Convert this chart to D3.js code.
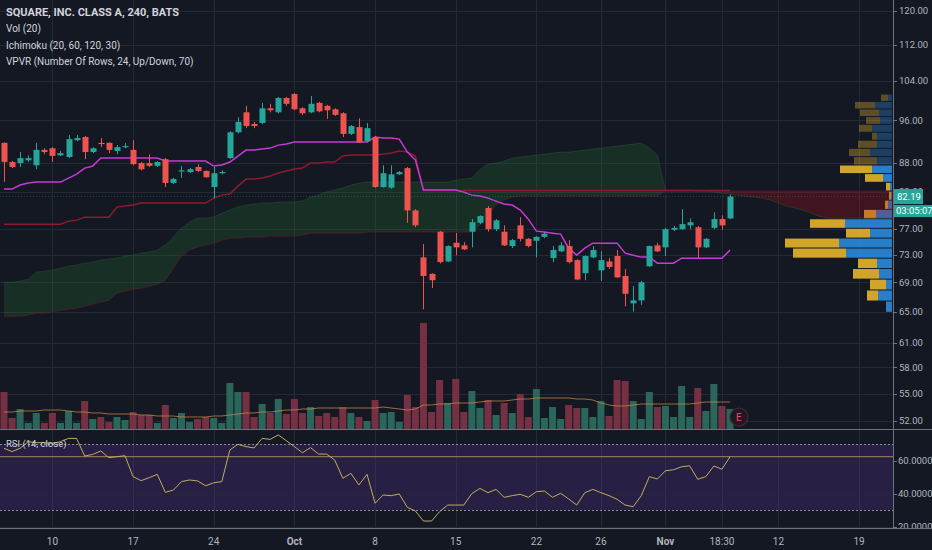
<!DOCTYPE html>
<html><head><meta charset="utf-8">
<script src="https://cdn.jsdelivr.net/npm/d3@7"></script>
<style>html,body{margin:0;padding:0;background:#141823;overflow:hidden}svg{display:block}</style>
</head><body>
<svg id="c" width="932" height="550"></svg>
<script>
// ---------------- DATA ----------------
const opens = [91.7,88.2,88.0,88.5,87.6,90.4,90.7,89.4,89.1,92.2,
92.8,90.0,91.7,91.7,90.2,90.9,90.4,88.0,88.0,87.5,
88.7,84.5,86.6,86.4,87.3,86.6,83.8,86.2,88.9,93.7,
97.6,95.3,95.5,98.4,97.6,100.5,101.3,98.4,97.6,99.5,
98.9,98.2,97.4,93.4,94.7,92.0,92.8,83.8,83.7,86.0,
87.1,79.9,72.6,70.2,76.5,72.0,74.8,74.4,76.5,77.9,
80.3,76.9,76.5,74.3,77.5,75.4,75.1,75.7,72.5,73.5,
74.3,72.2,70.3,72.6,70.7,72.0,72.8,69.9,66.1,66.5,
71.3,74.4,74.1,76.8,76.9,77.5,77.2,74.1,77.1,78.5,
78.6];
const highs = [91.8,88.4,90.0,89.4,91.7,90.7,90.9,90.2,93.2,93.2,
93.0,90.9,92.6,91.8,91.3,91.7,92.2,88.2,89.6,88.3,
88.9,85.4,87.5,87.1,87.8,86.7,87.3,86.7,93.9,96.6,
98.9,95.7,99.5,99.3,100.7,100.7,101.5,98.6,100.9,99.7,
99.1,98.4,97.6,95.1,96.4,95.5,93.0,87.6,87.6,86.6,
87.3,80.1,74.6,70.3,76.6,74.4,76.3,74.9,78.5,79.1,
80.6,78.5,77.5,75.4,78.8,75.5,75.8,76.5,74.3,74.9,
75.2,72.3,72.9,74.3,73.5,72.5,73.7,70.9,68.5,69.2,
74.4,74.8,77.1,77.4,80.1,78.6,77.4,75.5,79.6,79.1,
82.5];
const lows = [84.7,87.1,87.3,88.2,86.9,89.6,88.2,89.3,88.9,92.0,
88.7,89.8,90.9,89.8,89.6,90.7,87.6,86.7,87.3,87.3,
83.8,84.3,85.4,86.2,86.4,85.4,81.9,86.0,88.7,93.5,
94.5,94.5,95.3,97.6,97.4,98.9,98.0,97.1,97.4,97.6,
96.3,96.9,92.8,93.2,91.7,91.8,83.7,83.7,83.5,85.9,
77.9,77.2,65.3,68.2,71.7,71.9,72.9,73.7,74.1,77.7,
76.5,76.6,74.3,74.0,75.0,74.1,72.6,75.5,71.9,73.4,
71.7,69.3,69.3,72.5,69.2,70.9,69.6,65.7,65.0,65.9,
71.2,73.4,72.8,76.6,76.8,76.9,72.5,74.0,76.9,76.8,
78.5];
const closes = [88.2,87.3,88.9,88.9,90.4,90.0,89.3,89.8,92.4,92.6,
90.0,90.7,91.5,90.4,90.9,91.1,87.8,86.9,87.5,88.2,
84.5,85.2,86.7,86.9,86.6,85.5,86.2,86.4,93.7,95.7,
94.9,94.9,98.4,98.0,100.5,99.3,98.2,97.4,99.3,97.8,
98.0,97.1,93.4,94.9,91.8,94.5,83.8,86.2,86.0,86.4,
79.9,77.5,69.9,69.3,71.9,74.3,74.1,73.8,78.0,79.0,
76.9,78.3,74.4,75.2,75.4,74.3,75.7,76.2,73.7,74.4,
71.9,69.4,72.8,73.7,72.2,71.2,69.7,67.4,66.5,69.0,
74.3,73.5,76.9,77.1,77.7,78.0,74.1,75.4,78.5,77.5,
82.19];
// volume, millions of shares
const volumes = [3.7,1.1,2.0,0.6,1.6,0.6,1.6,0.6,1.8,0.6,
2.8,1.0,1.2,0.7,1.2,0.9,1.7,1.4,1.4,0.6,
2.4,1.1,1.6,0.7,1.0,1.2,1.1,0.6,4.6,3.7,
3.7,1.2,2.5,1.6,3.0,1.5,3.0,1.6,2.2,1.3,
1.6,1.2,2.2,1.6,1.2,0.8,2.9,1.6,1.7,0.7,
3.4,2.2,10.6,1.7,4.9,2.6,5.0,1.7,3.8,2.1,
2.9,1.4,2.6,1.6,3.5,1.2,4.0,1.1,2.2,1.0,
2.4,2.1,2.1,1.2,2.8,1.3,4.9,4.8,2.8,1.0,
3.7,2.2,2.3,1.2,4.3,1.2,4.1,1.8,4.5,2.3,
2.0];
const volumeMA = [1.7,1.7,1.8,1.8,1.8,1.9,1.9,1.9,1.8,1.7,
1.7,1.6,1.6,1.5,1.5,1.5,1.5,1.4,1.4,1.3,
1.3,1.3,1.2,1.2,1.2,1.2,1.3,1.3,1.4,1.5,
1.6,1.6,1.7,1.7,1.8,1.9,1.9,2.0,2.0,2.1,
2.1,2.1,2.1,2.1,2.1,2.1,2.1,2.2,2.1,2.0,
1.9,2.0,2.4,2.4,2.5,2.5,2.6,2.6,2.6,2.7,
2.8,2.8,2.8,2.9,3.0,3.0,3.1,3.1,3.1,3.1,
3.1,3.0,3.0,2.9,2.6,2.4,2.3,2.3,2.4,2.5,
2.5,2.5,2.5,2.5,2.5,2.5,2.6,2.7,2.7,2.7,
2.7];
// Ichimoku
const conversionLine = [83.45,83.45,84.14,84.48,84.65,84.65,84.65,84.65,85.35,86.04,
87.10,87.46,88.90,88.90,88.90,88.90,88.90,88.90,88.90,88.90,
88.36,88.36,88.36,88.36,88.36,88.36,87.46,87.64,88.18,89.26,
90.36,90.36,90.54,90.73,91.28,91.47,91.84,91.84,91.84,91.84,
91.84,91.84,91.84,91.84,91.84,91.84,92.79,92.60,92.60,92.41,
89.99,88.54,83.28,83.28,83.28,83.28,83.28,82.94,82.43,82.27,
81.93,81.43,80.94,80.77,79.95,78.49,76.59,76.44,76.28,76.13,
73.98,72.93,73.98,74.74,74.74,74.74,74.74,73.23,72.93,72.64,
72.64,71.75,71.75,71.75,72.48,72.48,72.48,72.48,72.48,72.48,
73.68];
const baseLine = [77.69,77.69,77.69,77.69,77.69,77.69,77.69,77.69,78.17,78.33,
78.81,78.81,78.81,78.81,80.44,80.61,80.77,81.10,81.10,81.10,
81.10,81.10,81.10,81.10,81.10,81.10,81.93,82.43,82.60,83.96,
85.17,85.17,85.35,85.70,86.22,86.57,86.93,87.10,87.99,87.99,
88.18,88.18,89.26,89.44,89.44,89.44,89.44,89.62,89.81,90.17,
89.99,89.26,83.20,83.20,83.20,83.20,83.20,83.20,83.20,83.20,
83.20,83.20,83.20,83.20,83.20,83.20,83.20,83.20,83.20,83.20,
83.20,83.20,83.20,83.20,83.20,83.20,83.20,83.20,83.20,83.20,
83.20,83.20,83.20,83.20,83.20,83.20,83.20,83.20,83.20,83.20,
83.20];
const leadSpanA = [69.02,69.02,69.16,69.44,70.44,70.59,70.73,71.02,71.31,71.46,
71.75,71.90,72.19,72.34,72.49,72.78,72.93,73.23,73.38,73.68,
74.44,75.66,77.06,78.01,78.65,78.65,78.81,79.46,79.95,80.44,
80.77,80.94,81.10,81.10,81.27,81.27,81.27,81.43,82.10,82.43,
82.94,83.28,83.62,84.14,84.48,84.65,84.65,84.65,84.65,84.65,
84.65,84.65,84.65,84.65,84.65,84.65,85.00,85.17,85.35,86.75,
87.82,87.99,88.36,88.90,89.08,89.26,89.44,89.62,89.81,89.99,
89.99,90.17,90.36,90.54,90.73,90.91,91.10,91.28,91.47,91.66,
90.73,89.44,83.28,83.28,83.28,83.28,83.11,83.11,82.94,82.77,
82.60,82.43,82.27,82.10,81.93,81.60,81.10,80.61,80.28,79.95,
79.46,78.97,78.65,78.65,78.65,78.65,78.65,78.65,78.65,78.65,
78.65,78.65,78.65];
const leadSpanB = [64.27,64.40,64.40,64.53,64.80,64.80,64.93,65.19,65.32,65.46,
65.72,65.99,66.26,66.53,67.49,67.76,68.04,68.18,68.46,68.74,
69.30,71.02,72.78,73.68,74.13,74.44,74.74,75.20,75.51,75.51,
75.66,75.66,75.66,75.82,75.82,75.82,75.82,75.97,76.28,76.28,
76.28,76.28,76.28,76.28,76.28,76.44,76.44,76.44,76.44,76.44,
76.44,76.44,76.44,76.44,76.44,76.44,76.44,76.44,76.44,77.54,
79.13,80.77,81.60,82.10,82.27,82.27,82.27,82.27,82.27,82.27,
82.27,82.27,82.27,82.27,82.27,82.27,82.27,82.27,82.27,82.27,
82.27,82.27,83.11,83.11,83.11,83.11,83.11,83.11,83.11,83.11,
83.11,83.11,83.11,83.11,83.11,83.11,83.11,83.11,83.11,83.11,
83.11,83.11,83.11,83.11,83.11,83.11,83.11,83.11,83.11,83.11,
83.11,83.11,83.11];
// RSI (14, close)
const rsiValues = [67.4,65.4,67.4,71.4,70.8,70.8,70.4,71.4,73.4,73.4,
62.7,63.7,65.8,61.7,62.3,62.9,50.2,47.8,49.6,51.6,
40.7,42.1,47.2,48.2,47.6,44.7,46.5,47.2,66.4,69.8,
68.4,67.6,73.4,72.8,75.5,72.0,68.4,64.7,67.8,63.9,
63.9,60.3,49.2,52.2,45.2,51.6,34.1,39.1,38.7,39.7,
31.6,29.4,23.3,23.3,29.0,33.0,33.0,33.0,40.0,43.1,
40.5,42.5,37.7,38.7,39.5,37.7,41.1,41.5,37.7,40.1,
36.7,33.0,40.5,42.5,40.5,38.7,36.5,33.0,32.0,38.7,
50.2,48.8,53.8,54.4,56.2,56.8,48.6,50.2,56.7,54.7,
62.3];
// VPVR: 24 rows, bottom row first
const vpvrLow = 64.9, vpvrHigh = 101.3;
const vpvrUp   = [6,14,6,13,15,46,53,22,47,16,4,1,2,9,20,15,22,15,15,20,12,13,17,4];
const vpvrDown = [0,11,16,26,19,53,54,24,35,12,3,2,4,18,32,23,21,19,5,13,14,19,20,7];
const vpvrValueAreaRows = 15; // bottom rows inside the 70% value area
// axes
const priceTicks = [52,55,58,61,65,69,73,77,83,88,96,104,112,120];
const rsiTicks = [20,40,60];
const timeTickIdx = [6,16,26,36,46,56,66,74,82,89,96,106];
const timeTickLabels = ["10","17","24","Oct","8","15","22","26","Nov","18:30","12","19"];
const boldTimeLabels = ["Oct","Nov"];
const earningsIdx = 91.1;
const countdown = "03:05:07";
const legendLines = ["SQUARE, INC. CLASS A, 240, BATS","Vol (20)","Ichimoku (20, 60, 120, 30)","VPVR (Number Of Rows, 24, Up/Down, 70)"];

// ---------------- LAYOUT ----------------
const W = 932, H = 550, plotR = 893, mainB = 429, rsiT = 430, rsiB = 528;
const C = {
  bg:"#141823", grid:"#252935", up:"#26a69a", down:"#ef5350",
  volUp:"#2b665b", volDown:"#763043", text:"#b2b5be", legend:"#d1d4dc",
  conv:"#c73ad4", base:"#8c1b2e", sep:"#6f727c"
};
const FONT = "Roboto, 'Noto Sans', sans-serif";

const x = d3.scaleLinear().domain([0, 90]).range([4, 730]);
const y = d3.scaleLog().domain([52, 120]).range([421, 11]);
const yVol = d3.scaleLinear().domain([0, 10.6]).range([mainB, 323]);
const yRsi = d3.scaleLinear().domain([30, 70]).range([510, 444]);
const vpW = d3.scaleLinear().domain([0, d3.max(vpvrUp.map((u,i)=>u+vpvrDown[i]))]).range([0, 107]);

const svg = d3.select("#c");
svg.append("rect").attr("width",W).attr("height",H).attr("fill",C.bg);
const defs = svg.append("defs");
defs.append("clipPath").attr("id","mainClip").append("rect").attr("x",0).attr("y",0).attr("width",plotR).attr("height",mainB);
defs.append("clipPath").attr("id","rsiClip").append("rect").attr("x",0).attr("y",rsiT).attr("width",plotR).attr("height",rsiB-rsiT);
defs.append("clipPath").attr("id","rsiAxisClip").append("rect").attr("x",plotR).attr("y",rsiT).attr("width",W-plotR).attr("height",rsiB-rsiT);

// grid
const grid = svg.append("g");
grid.selectAll("line.v").data(timeTickIdx).join("line")
  .attr("x1",d=>Math.round(x(d))+0.5).attr("x2",d=>Math.round(x(d))+0.5)
  .attr("y1",0).attr("y2",rsiB).attr("stroke",C.grid);
grid.selectAll("line.h").data(priceTicks).join("line")
  .attr("x1",0).attr("x2",plotR).attr("y1",d=>Math.round(y(d))+0.5).attr("y2",d=>Math.round(y(d))+0.5)
  .attr("stroke",C.grid);

const main = svg.append("g").attr("clip-path","url(#mainClip)");

// VPVR
const rowStep = (vpvrHigh - vpvrLow) / vpvrUp.length;
const vp = main.append("g");
vpvrUp.forEach((u,i)=>{
  const lo = vpvrLow + i*rowStep, hi = lo + rowStep;
  const yt = y(hi), yb = y(lo), h = yb - yt - 1;
  const inVA = i < vpvrValueAreaRows;
  const op = inVA ? 0.85 : 0.33;
  const wu = vpW(u), wd = vpW(vpvrDown[i]);
  vp.append("rect").attr("x",plotR-1-wu).attr("y",yt+0.5).attr("width",wu).attr("height",h)
    .attr("fill","#2d90e6").attr("fill-opacity",op);
  if (wd>0) vp.append("rect").attr("x",plotR-1-wu-wd).attr("y",yt+0.5).attr("width",wd).attr("height",h)
    .attr("fill","#f2bd2c").attr("fill-opacity",op);
});

// Ichimoku cloud
const fi = d3.range(leadSpanA.length);
defs.append("clipPath").attr("id","aboveB").append("path")
  .attr("d", d3.area().x(i=>x(i)).y0(0).y1(i=>y(leadSpanB[i]))(fi));
defs.append("clipPath").attr("id","aboveA").append("path")
  .attr("d", d3.area().x(i=>x(i)).y0(0).y1(i=>y(leadSpanA[i]))(fi));
main.append("g").attr("clip-path","url(#aboveB)").append("path")
  .attr("d", d3.area().x(i=>x(i)).y0(i=>y(leadSpanA[i])).y1(mainB)(fi))
  .attr("fill","rgb(40,140,50)").attr("fill-opacity",0.2);
main.append("g").attr("clip-path","url(#aboveA)").append("path")
  .attr("d", d3.area().x(i=>x(i)).y0(i=>y(leadSpanB[i])).y1(mainB)(fi))
  .attr("fill","rgb(180,15,25)").attr("fill-opacity",0.28);
main.append("path").attr("d", d3.line().x(i=>x(i)).y(i=>y(leadSpanA[i]))(fi))
  .attr("fill","none").attr("stroke","#2e6b34").attr("stroke-opacity",0.35).attr("stroke-width",1);
main.append("path").attr("d", d3.line().x(i=>x(i)).y(i=>y(leadSpanB[i]))(fi))
  .attr("fill","none").attr("stroke","#6a1a28").attr("stroke-opacity",0.6).attr("stroke-width",1);

const ci = d3.range(closes.length);
main.append("path").attr("d", d3.line().x(i=>x(i)).y(i=>y(baseLine[i]))(ci))
  .attr("fill","none").attr("stroke",C.base).attr("stroke-width",1.5);
main.append("path").attr("d", d3.line().x(i=>x(i)).y(i=>y(conversionLine[i]))(ci))
  .attr("fill","none").attr("stroke",C.conv).attr("stroke-width",1.5);

// volume
main.selectAll("rect.vol").data(ci).join("rect")
  .attr("x",i=>x(i)-3.5).attr("width",7)
  .attr("y",i=>yVol(volumes[i])).attr("height",i=>mainB-yVol(volumes[i]))
  .attr("fill",i=>closes[i]>=opens[i]?C.volUp:C.volDown);
main.append("path").attr("d", d3.line().x(i=>x(i)).y(i=>yVol(volumeMA[i]))(ci))
  .attr("fill","none").attr("stroke","#c8884a").attr("stroke-opacity",0.75).attr("stroke-width",1);

// last price line
const lastClose = closes[closes.length-1];
main.append("line").attr("x1",0).attr("x2",plotR).attr("y1",y(lastClose)).attr("y2",y(lastClose))
  .attr("stroke",C.up).attr("stroke-opacity",0.35).attr("stroke-dasharray","1,2");

// candles
const cg = main.append("g");
cg.selectAll("line").data(ci).join("line")
  .attr("x1",i=>Math.round(x(i))+0.5).attr("x2",i=>Math.round(x(i))+0.5)
  .attr("y1",i=>y(highs[i])).attr("y2",i=>y(lows[i]))
  .attr("stroke",i=>closes[i]>=opens[i]?C.up:C.down).attr("stroke-width",1);
cg.selectAll("rect").data(ci).join("rect")
  .attr("x",i=>Math.round(x(i))-2.5).attr("width",6)
  .attr("y",i=>y(Math.max(opens[i],closes[i])))
  .attr("height",i=>Math.max(1.2, Math.abs(y(opens[i])-y(closes[i]))))
  .attr("fill",i=>closes[i]>=opens[i]?C.up:C.down);

// earnings marker
const eg = svg.append("g").attr("transform",`translate(${x(earningsIdx)},417)`);
eg.append("circle").attr("r",9).attr("fill","#1d1a25").attr("stroke","#4d2733").attr("stroke-width",1.2);
eg.append("text").text("E").attr("text-anchor","middle").attr("dy","0.36em")
  .attr("fill","#e0506b").attr("font-family",FONT).attr("font-size",10);

// RSI pane
const rp = svg.append("g").attr("clip-path","url(#rsiClip)");
rp.append("rect").attr("x",0).attr("width",plotR).attr("y",yRsi(70)).attr("height",yRsi(30)-yRsi(70))
  .attr("fill","rgb(120,60,200)").attr("fill-opacity",0.2);
rp.selectAll("line.g").data(rsiTicks).join("line")
  .attr("x1",0).attr("x2",plotR).attr("y1",d=>Math.round(yRsi(d))+0.5).attr("y2",d=>Math.round(yRsi(d))+0.5)
  .attr("stroke",C.grid);
[70,30].forEach(v=>rp.append("line").attr("x1",0).attr("x2",plotR)
  .attr("y1",Math.round(yRsi(v))+0.5).attr("y2",Math.round(yRsi(v))+0.5)
  .attr("stroke","#8a8d98").attr("stroke-dasharray","2,2").attr("stroke-width",1));
const lastRsi = rsiValues[rsiValues.length-1];
rp.append("line").attr("x1",0).attr("x2",plotR).attr("y1",yRsi(lastRsi)).attr("y2",yRsi(lastRsi))
  .attr("stroke","#c7a35e").attr("stroke-opacity",0.8).attr("stroke-width",1);
rp.append("path").attr("d", d3.line().x(i=>x(i)).y(i=>yRsi(rsiValues[i]))(ci))
  .attr("fill","none").attr("stroke","#c2ad5e").attr("stroke-width",1);
svg.append("text").text("RSI (14, close)").attr("x",6).attr("y",447)
  .attr("fill",C.legend).attr("font-family",FONT).attr("font-size",9.5);

// separators / axis lines
svg.append("line").attr("x1",0).attr("x2",W).attr("y1",mainB+0.5).attr("y2",mainB+0.5).attr("stroke",C.sep);
svg.append("line").attr("x1",0).attr("x2",W).attr("y1",rsiB+0.5).attr("y2",rsiB+0.5).attr("stroke",C.sep);
svg.append("line").attr("x1",plotR+0.5).attr("x2",plotR+0.5).attr("y1",0).attr("y2",rsiB).attr("stroke",C.sep);

// price axis
const pa = svg.append("g");
pa.selectAll("line").data(priceTicks).join("line")
  .attr("x1",plotR).attr("x2",plotR+4).attr("y1",d=>Math.round(y(d))+0.5).attr("y2",d=>Math.round(y(d))+0.5).attr("stroke",C.sep);
pa.selectAll("text").data(priceTicks).join("text")
  .text(d3.format(".2f")).attr("x",plotR+6).attr("y",d=>y(d)).attr("dy","0.35em")
  .attr("fill",C.text).attr("font-family",FONT).attr("font-size",9.5);
// rsi axis
const ra = svg.append("g").attr("clip-path","url(#rsiAxisClip)");
ra.selectAll("line").data(rsiTicks).join("line")
  .attr("x1",plotR).attr("x2",plotR+4).attr("y1",d=>Math.round(yRsi(d))+0.5).attr("y2",d=>Math.round(yRsi(d))+0.5).attr("stroke",C.sep);
ra.selectAll("text").data(rsiTicks).join("text")
  .text(d3.format(".4f")).attr("x",plotR+5).attr("y",d=>yRsi(d)).attr("dy","0.35em")
  .attr("fill",C.text).attr("font-family",FONT).attr("font-size",9.5);

// last price label & countdown
const ly = y(lastClose);
svg.append("rect").attr("x",plotR+1).attr("y",ly-7.5).attr("width",29).attr("height",15).attr("fill",C.up);
svg.append("text").text(lastClose.toFixed(2)).attr("x",plotR+4).attr("y",ly).attr("dy","0.36em")
  .attr("fill","#ffffff").attr("font-family",FONT).attr("font-size",9.5);
svg.append("rect").attr("x",plotR+1).attr("y",ly+8.5).attr("width",W-plotR-1).attr("height",12).attr("fill",C.up);
svg.append("text").text(countdown).attr("x",plotR+3).attr("y",ly+14.5).attr("dy","0.36em")
  .attr("fill","#ffffff").attr("font-family",FONT).attr("font-size",9.5);

// time axis
svg.selectAll("text.t").data(timeTickIdx).join("text")
  .text((d,i)=>timeTickLabels[i]).attr("x",d=>x(d)).attr("y",541).attr("dy","0.35em")
  .attr("text-anchor","middle").attr("fill",C.text).attr("font-family",FONT).attr("font-size",10)
  .attr("font-weight",(d,i)=>boldTimeLabels.includes(timeTickLabels[i])?"bold":"normal");

// legend
svg.selectAll("text.lg").data(legendLines).join("text")
  .text(d=>d).attr("x",6).attr("y",(d,i)=>16+i*16.3)
  .attr("fill",C.legend).attr("font-family",FONT).attr("font-size",(d,i)=>i===0?11:10)
  .attr("font-weight",(d,i)=>i===0?"bold":"normal");
</script>
</body></html>
